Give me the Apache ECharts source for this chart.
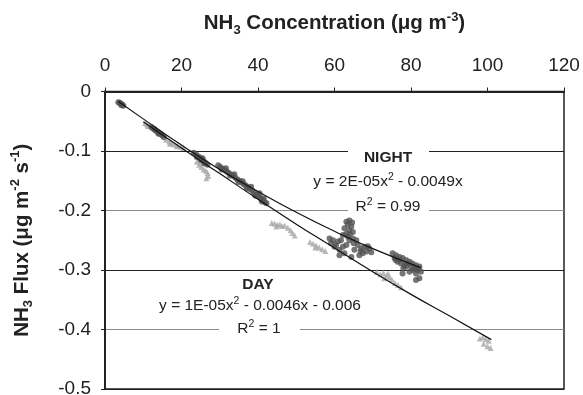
<!DOCTYPE html>
<html>
<head>
<meta charset="utf-8">
<script src="https://cdn.jsdelivr.net/npm/echarts@6/dist/echarts.min.js"></script>
<style>
  html, body { margin: 0; background: #fff; }
  #chart { width: 583px; height: 395px; }
</style>
</head>
<body>
<div id="chart"></div>
<script>
const FONT = '"Liberation Sans", Arial, sans-serif';

const xTicks = [0, 20, 40, 60, 80, 100, 120];
const yTicks = [0, -0.1, -0.2, -0.3, -0.4, -0.5];

// night measurements (dark circles)
const nightPoints = [
  [3.5, -0.018], [3.8, -0.019], [4.0, -0.020], [4.2, -0.021], [4.5, -0.022], [4.8, -0.024], [4.3, -0.023],
  [12.2, -0.060], [12.8, -0.063], [13.3, -0.066], [13.8, -0.068], [14.2, -0.070], [14.6, -0.072],
  [15.0, -0.074], [15.4, -0.077], [13.0, -0.064], [14.0, -0.071],
  [23.2, -0.103], [23.8, -0.106], [24.3, -0.109], [24.8, -0.111], [25.3, -0.114], [25.8, -0.117],
  [26.3, -0.120], [26.8, -0.123], [24.0, -0.110], [25.0, -0.115], [25.5, -0.112], [26.0, -0.121],
  [29.6, -0.124], [30.2, -0.127], [30.8, -0.130], [31.3, -0.132], [31.9, -0.135], [32.4, -0.137],
  [33.0, -0.140], [33.5, -0.142], [34.1, -0.145], [34.6, -0.148], [35.2, -0.150], [35.7, -0.153],
  [36.3, -0.156], [36.8, -0.158], [37.4, -0.161], [37.9, -0.164], [38.5, -0.167], [39.0, -0.170],
  [39.6, -0.173], [40.1, -0.176], [40.7, -0.179], [41.2, -0.182], [41.8, -0.186], [42.2, -0.188],
  [30.5, -0.131], [31.6, -0.129], [32.7, -0.141], [33.8, -0.139], [34.9, -0.152], [36.0, -0.151],
  [37.1, -0.163], [38.2, -0.160], [39.3, -0.175], [40.4, -0.171], [41.5, -0.180], [41.0, -0.185],
  [63.1, -0.219], [63.9, -0.217], [64.6, -0.220], [63.5, -0.224], [64.4, -0.227], [62.6, -0.230],
  [63.9, -0.233], [64.8, -0.236], [63.1, -0.239], [62.2, -0.241], [63.5, -0.244], [64.8, -0.247],
  [65.7, -0.250], [63.9, -0.250], [61.7, -0.250], [60.9, -0.252], [59.6, -0.250], [58.7, -0.247],
  [60.0, -0.261], [61.3, -0.266], [62.6, -0.272], [64.4, -0.278], [60.4, -0.258], [66.1, -0.258],
  [67.0, -0.264], [67.8, -0.261], [68.7, -0.260], [69.1, -0.264], [68.3, -0.269], [67.4, -0.272],
  [66.5, -0.275], [65.2, -0.266], [63.1, -0.258], [62.2, -0.261], [59.1, -0.255], [61.3, -0.275],
  [64.0, -0.240], [65.0, -0.255], [66.8, -0.268], [69.6, -0.270],
  [75.2, -0.272], [76.1, -0.275], [77.0, -0.278], [77.8, -0.280], [78.7, -0.283], [79.6, -0.286],
  [80.4, -0.289], [81.3, -0.292], [82.2, -0.294], [75.7, -0.280], [76.5, -0.286], [77.4, -0.289],
  [78.3, -0.292], [79.1, -0.289], [80.0, -0.294], [80.9, -0.297], [81.7, -0.300], [82.6, -0.303],
  [77.8, -0.306], [79.6, -0.303], [81.3, -0.306], [82.2, -0.314], [81.3, -0.317], [78.7, -0.294],
  [77.0, -0.283], [76.0, -0.283], [78.0, -0.297], [80.5, -0.300], [82.0, -0.298]
];

// day measurements (light triangles)
const dayPoints = [
  [10.5, -0.053], [11.0, -0.055], [11.5, -0.057], [12.0, -0.059], [12.4, -0.061], [11.2, -0.058],
  [16.0, -0.081], [16.8, -0.084], [17.5, -0.087], [18.2, -0.089], [19.0, -0.091], [19.8, -0.093],
  [20.5, -0.095], [17.0, -0.088], [18.8, -0.092],
  [24.0, -0.118], [24.6, -0.123], [25.2, -0.127], [25.8, -0.131], [26.4, -0.133], [25.0, -0.120],
  [26.8, -0.137], [27.0, -0.142], [26.5, -0.146],
  [43.6, -0.221], [44.3, -0.222], [45.0, -0.224], [45.7, -0.223], [46.3, -0.226], [47.0, -0.225],
  [47.8, -0.229], [48.5, -0.233], [49.0, -0.238], [49.6, -0.242], [44.8, -0.227],
  [53.6, -0.253], [54.4, -0.256], [55.2, -0.259], [56.0, -0.262], [56.8, -0.265], [57.6, -0.268], [55.0, -0.262],
  [71.0, -0.303], [72.0, -0.307], [72.8, -0.305], [73.6, -0.310], [74.4, -0.312], [75.0, -0.316],
  [75.8, -0.322], [76.6, -0.325], [77.4, -0.329], [74.0, -0.306], [73.0, -0.314],
  [98.0, -0.415], [98.8, -0.413], [99.6, -0.416], [100.3, -0.419], [99.0, -0.424], [100.0, -0.428], [100.8, -0.431]
];

// trend lines
const nightFitX = [3.5, 10, 20, 30, 40, 50, 60, 70, 82.5];
const nightFitY = [-0.017, -0.046, -0.090, -0.131, -0.168, -0.203, -0.235, -0.264, -0.296];
const dayFitX = [10, 20, 30, 40, 50, 60, 70, 80, 90, 101];
const dayFitY = [-0.051, -0.095, -0.138, -0.181, -0.223, -0.263, -0.303, -0.341, -0.377, -0.417];

const richName = {
  b: { fontFamily: FONT, fontSize: 20.5, fontWeight: 'bold', color: '#222', lineHeight: 26 },
  sub: { fontFamily: FONT, fontSize: 13, fontWeight: 'bold', color: '#222', lineHeight: 13, verticalAlign: 'bottom' },
  sup: { fontFamily: FONT, fontSize: 13, fontWeight: 'bold', color: '#222', lineHeight: 13, verticalAlign: 'top' }
};
const richNote = {
  t: { fontFamily: FONT, fontSize: 15.5, color: '#222', lineHeight: 20 },
  h: { fontFamily: FONT, fontSize: 15.5, fontWeight: 'bold', color: '#222', lineHeight: 20 },
  sup: { fontFamily: FONT, fontSize: 10.5, color: '#222', lineHeight: 11, verticalAlign: 'top' }
};

function note(text, x, y) {
  return {
    type: 'text', x: x, y: y, z: 100,
    style: {
      text: text, rich: richNote, fill: '#222',
      align: 'center', verticalAlign: 'middle',
      textAlign: 'center', textVerticalAlign: 'middle'
    }
  };
}
function mask(x, y, w) {
  return { type: 'rect', z: 90, shape: { x: x, y: y - 3, width: w, height: 6 }, style: { fill: '#fff' } };
}

const chart = echarts.init(document.getElementById('chart'), null, { renderer: 'canvas' });

chart.setOption({
  backgroundColor: '#fff',
  animation: false,
  textStyle: { fontFamily: FONT },
  grid: {
    left: 105, right: 19, top: 91.5, bottom: 6,
    show: true, borderColor: '#222', borderWidth: 1.5,
    outerBoundsMode: 'none'
  },
  xAxis: {
    type: 'value', position: 'top',
    min: xTicks[0], max: xTicks[xTicks.length - 1], interval: 20,
    name: '{b|NH}{sub|3}{b| Concentration (μg m}{sup|-3}{b|)}',
    nameLocation: 'middle', nameGap: 55,
    nameTextStyle: { rich: richName },
    axisLine: { show: true, onZero: false, lineStyle: { color: '#222', width: 2 } },
    axisTick: { show: true, inside: false, length: 4, lineStyle: { color: '#222', width: 1 } },
    axisLabel: { color: '#222', fontSize: 19, fontFamily: FONT, margin: 16 },
    splitLine: { show: false }
  },
  yAxis: {
    type: 'value',
    min: yTicks[yTicks.length - 1], max: yTicks[0], interval: 0.1,
    name: '{b|NH}{sub|3}{b| Flux (μg m}{sup|-2}{b| s}{sup|-1}{b|)}',
    nameLocation: 'middle', nameGap: 70, nameRotate: 90,
    nameTextStyle: { rich: richName },
    axisLine: { show: true, onZero: false, lineStyle: { color: '#222', width: 2 } },
    axisTick: { show: true, inside: false, length: 4, lineStyle: { color: '#222', width: 1 } },
    axisLabel: { color: '#222', fontSize: 19, fontFamily: FONT, margin: 14 },
    splitLine: { show: true, lineStyle: { color: ['#222', '#8a8a8a'], width: 1 } }
  },
  series: [
    {
      name: 'DAY', type: 'scatter', symbol: 'triangle', symbolSize: 6,
      itemStyle: { color: '#a8a8a8' }, data: dayPoints, z: 2
    },
    {
      name: 'NIGHT', type: 'scatter', symbol: 'circle', symbolSize: 6,
      itemStyle: { color: '#525252' }, data: nightPoints, z: 3
    },
    {
      name: 'NIGHT fit', type: 'line', smooth: true, showSymbol: false, symbol: 'none',
      lineStyle: { color: '#111', width: 1.2 }, z: 5,
      data: nightFitX.map((x, i) => [x, nightFitY[i]])
    },
    {
      name: 'DAY fit', type: 'line', smooth: true, showSymbol: false, symbol: 'none',
      lineStyle: { color: '#111', width: 1.2 }, z: 5,
      data: dayFitX.map((x, i) => [x, dayFitY[i]])
    }
  ],
  graphic: [
    mask(348, 151, 81),
    mask(348, 210.5, 81),
    mask(219, 329.5, 81),
    note('{h|NIGHT}', 388, 158),
    note('{t|y = 2E-05x}{sup|2}{t| - 0.0049x}', 388, 182),
    note('{t|R}{sup|2}{t| = 0.99}', 388, 207),
    note('{h|DAY}', 258, 285),
    note('{t|y = 1E-05x}{sup|2}{t| - 0.0046x - 0.006}', 260, 306),
    note('{t|R}{sup|2}{t| = 1}', 259, 329)
  ]
});
</script>
</body>
</html>
